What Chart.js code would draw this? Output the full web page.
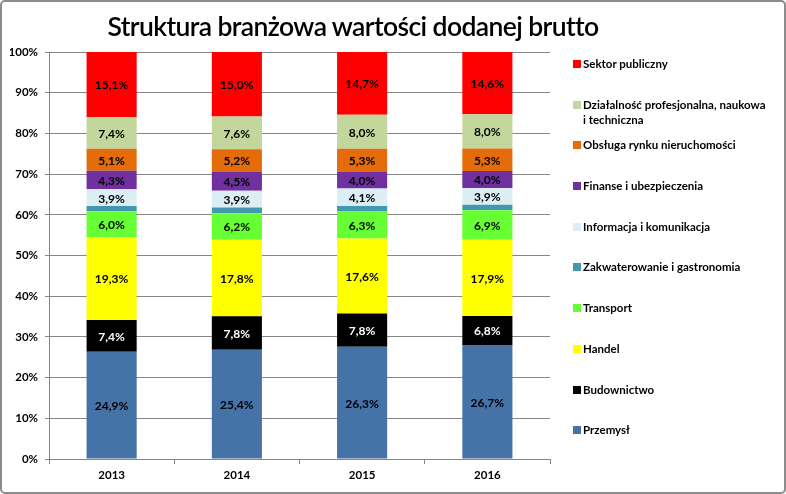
<!doctype html>
<html lang="pl">
  <head>
    <meta charset="utf-8">
    <title>Struktura branżowa wartości dodanej brutto</title>
    <style>
      * {
        margin: 0;
        padding: 0;
      }
      body {
        width: 786px;
        height: 494px;
        overflow: hidden;
        background: white;
        font-family: Lato, sans-serif;
      }
      .card {
        position: relative;
        width: 786px;
        height: 494px;
      }
      .frame {
        position: absolute;
        left: 0; top: 0; right: 0; bottom: 0;
        border: 2px solid #8c8c8c;
        border-radius: 5px;
        pointer-events: none;
      }
      .title {
        position: absolute;
        left: 0;
        width: 706px;
        top: 10px;
        text-align: center;
        font-size: 26.5px;
        font-weight: 600;
        color: #000;
        letter-spacing: -0.6px;
      }
      #chartBox {
        position: absolute;
        left: 0; top: 0;
        width: 786px;
        height: 494px;
      }
      #legend {
        position: absolute;
        left: 573px;
        top: 56px;
        font-size: 11.5px;
        font-weight: bold;
        color: #000;
      }
      #legend .item {
        position: relative;
        height: 40.7px;
        padding-left: 10px;
        line-height: 15px;
        white-space: nowrap;
      }
      #legend .box {
        position: absolute;
        left: 0;
        top: 4px;
        width: 8px;
        height: 8px;
      }
    </style>
  </head>
  <body>
    <div class="card">
      <div id="chartBox"><canvas id="myChart"></canvas></div>
      <div class="title">Struktura branżowa wartości dodanej brutto</div>
      <div id="legend"></div>
      <div class="frame"></div>
    </div>
    <script src="https://cdn.jsdelivr.net/npm/chart.js/dist/chart.umd.min.js"></script>
    <script>
    // data (shares in %, as printed on the bars)
    const years = ['2013', '2014', '2015', '2016'];
    const yTicks = [0, 10, 20, 30, 40, 50, 60, 70, 80, 90, 100];

    const przemysl      = [24.9, 25.4, 26.3, 26.7];
    const budownictwo   = [7.4, 7.8, 7.8, 6.8];
    const handel        = [19.3, 17.8, 17.6, 17.9];
    const transport     = [6.0, 6.2, 6.3, 6.9];
    const zakwaterowanie = [1.2, 1.3, 1.3, 1.3];
    const informacja    = [3.9, 3.9, 4.1, 3.9];
    const finanse       = [4.3, 4.5, 4.0, 4.0];
    const nieruchomosci = [5.1, 5.2, 5.3, 5.3];
    const dzialalnosc   = [7.4, 7.6, 8.0, 8.0];
    const sektorPubl    = [15.1, 15.0, 14.7, 14.6];

    const series = [
      { label: 'Przemysł', data: przemysl, color: '#4572A7', text: '#000', show: true },
      { label: 'Budownictwo', data: budownictwo, color: '#000000', text: '#fff', show: true },
      { label: 'Handel', data: handel, color: '#FFFF00', text: '#000', show: true },
      { label: 'Transport', data: transport, color: '#66FF33', text: '#000', show: true },
      { label: 'Zakwaterowanie i gastronomia', data: zakwaterowanie, color: '#4198AF', text: '#000', show: false },
      { label: 'Informacja i komunikacja', data: informacja, color: '#DBEEF4', text: '#000', show: true },
      { label: 'Finanse i ubezpieczenia', data: finanse, color: '#7030A0', text: '#000', show: true },
      { label: 'Obsługa rynku nieruchomości', data: nieruchomosci, color: '#E46C0A', text: '#000', show: true },
      { label: 'Działalność profesjonalna, naukowa\ni techniczna', data: dzialalnosc, color: '#C3D69B', text: '#000', show: true },
      { label: 'Sektor publiczny', data: sektorPubl, color: '#FF0000', text: '#000', show: true }
    ];

    // 100% stacked: each year normalised to its total
    const totals = years.map((y, i) => series.reduce((s, d) => s + d.data[i], 0));

    const datasets = series.map((s) => ({
      label: s.label,
      raw: s.data,
      data: s.data.map((v, i) => v / totals[i] * 100),
      backgroundColor: s.color,
      borderWidth: 0,
      barPercentage: 0.4,
      categoryPercentage: 1.0,
      textColor: s.text,
      showLabels: s.show
    }));

    // html legend, top item first
    const legend = document.getElementById('legend');
    series.slice().reverse().forEach((s) => {
      const item = document.createElement('div');
      item.className = 'item';
      item.innerHTML = '<span class="box" style="background:' + s.color + '"></span>' +
        s.label.replace('\n', '<br>');
      legend.appendChild(item);
    });

    // value labels in the middle of each segment
    const barLabels = {
      id: 'barLabels',
      afterDatasetsDraw(chart) {
        const ctx = chart.ctx;
        ctx.save();
        ctx.font = 'bold 12px Lato, sans-serif';
        ctx.textAlign = 'center';
        ctx.textBaseline = 'middle';
        chart.data.datasets.forEach((ds, di) => {
          if (!ds.showLabels) return;
          chart.getDatasetMeta(di).data.forEach((bar, i) => {
            ctx.fillStyle = ds.textColor;
            const txt = ds.raw[i].toFixed(1).replace('.', ',') + '%';
            ctx.fillText(txt, bar.x, (bar.y + bar.base) / 2 + 1);
          });
        });
        ctx.restore();
      }
    };

    const config = {
      type: 'bar',
      data: { labels: years, datasets },
      options: {
        responsive: true,
        maintainAspectRatio: false,
        animation: false,
        layout: { padding: { left: 10, right: 236, top: 52, bottom: 0 } },
        plugins: {
          legend: { display: false },
          tooltip: { enabled: false }
        },
        scales: {
          x: {
            stacked: true,
            grid: { drawOnChartArea: false, drawTicks: true, tickLength: 5, color: '#868686' },
            border: { color: '#868686' },
            ticks: { color: '#000', font: { family: 'Lato', size: 11.5, weight: 'bold' }, padding: 4 },
            afterFit(scale) { scale.height = 35; }
          },
          y: {
            stacked: true,
            min: 0,
            max: 100,
            afterBuildTicks(scale) { scale.ticks = yTicks.map((v) => ({ value: v })); },
            grid: { color: '#868686', tickLength: 4 },
            border: { color: '#868686' },
            ticks: {
              color: '#000',
              padding: 7,
              font: { family: 'Lato', size: 11.5, weight: 'bold' },
              callback: (v) => v + '%'
            },
            afterFit(scale) { scale.width = 39; }
          }
        }
      },
      plugins: [barLabels]
    };

    const myChart = new Chart(document.getElementById('myChart'), config);
    </script>
  </body>
</html>
